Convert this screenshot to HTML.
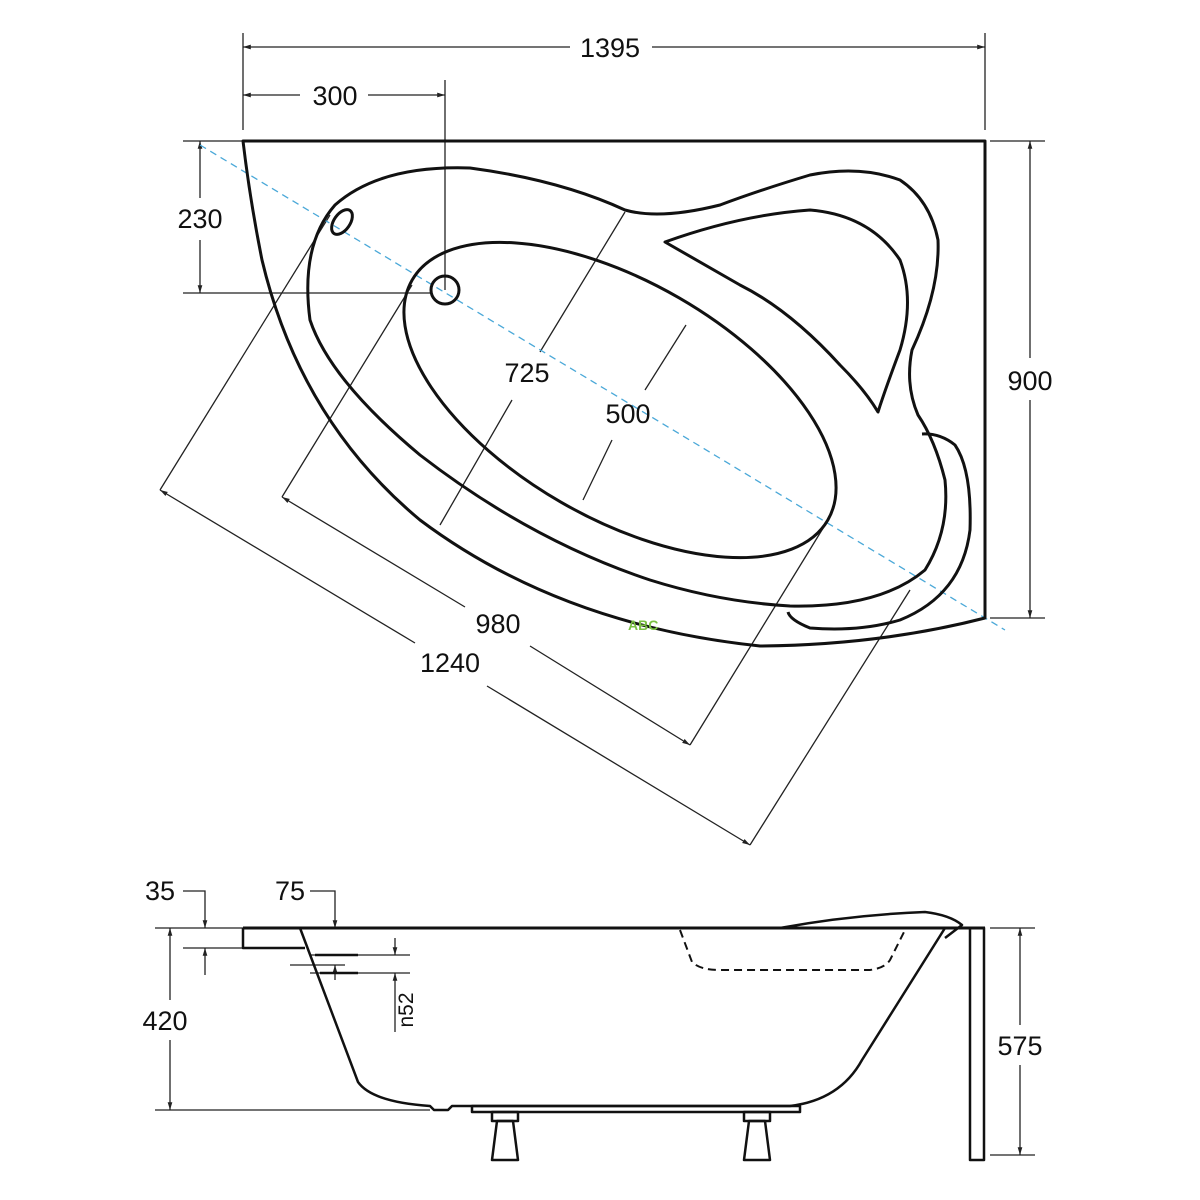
<!DOCTYPE html>
<html><head><meta charset="utf-8"><style>
html,body{margin:0;padding:0;background:#fff;}
svg{display:block;}
text{font-family:"Liberation Sans",sans-serif;font-size:27px;fill:#111;}
</style></head><body>
<svg width="1200" height="1200" viewBox="0 0 1200 1200" xmlns="http://www.w3.org/2000/svg">
<defs>
<marker id="a" viewBox="0 0 10 10" refX="10" refY="5" markerWidth="6" markerHeight="6" orient="auto-start-reverse"><path d="M0,2 L10,5 L0,8 z" fill="#222"/></marker>
</defs>
<g stroke="#222" stroke-width="1.3" fill="none">
<line x1="243" y1="33" x2="243" y2="130"/><line x1="985" y1="33" x2="985" y2="130"/>
<line x1="243" y1="47" x2="570" y2="47" marker-start="url(#a)"/><line x1="652" y1="47" x2="985" y2="47" marker-end="url(#a)"/>
<line x1="243" y1="95" x2="300" y2="95" marker-start="url(#a)"/><line x1="368" y1="95" x2="445" y2="95" marker-end="url(#a)"/>
<line x1="445" y1="80" x2="445" y2="290"/>
<line x1="183" y1="141" x2="243" y2="141"/><line x1="183" y1="293" x2="430" y2="293"/>
<line x1="200" y1="141" x2="200" y2="198" marker-start="url(#a)"/><line x1="200" y1="240" x2="200" y2="293" marker-end="url(#a)"/>
<line x1="990" y1="141" x2="1045" y2="141"/><line x1="990" y1="618" x2="1045" y2="618"/>
<line x1="1030" y1="141" x2="1030" y2="358" marker-start="url(#a)"/><line x1="1030" y1="400" x2="1030" y2="618" marker-end="url(#a)"/>
<line x1="160" y1="490" x2="330" y2="215"/><line x1="750" y1="845" x2="910" y2="590"/>
<line x1="160" y1="490" x2="415" y2="643" marker-start="url(#a)"/><line x1="487" y1="686" x2="750" y2="845" marker-end="url(#a)"/>
<line x1="282" y1="497" x2="412" y2="285"/><line x1="690" y1="745" x2="825" y2="525"/>
<line x1="282" y1="497" x2="465" y2="607" marker-start="url(#a)"/><line x1="530" y1="646" x2="690" y2="745" marker-end="url(#a)"/>
<line x1="440" y1="525" x2="512" y2="400"/><line x1="540" y1="352" x2="625" y2="212"/>
<line x1="583" y1="500" x2="612" y2="440"/><line x1="645" y1="390" x2="686" y2="325"/>
</g>
<line x1="200" y1="145" x2="1005" y2="630" stroke="#4aa8d8" stroke-width="1.3" stroke-dasharray="7,5"/>
<g stroke="#111" stroke-width="3" fill="none" stroke-linejoin="round">
<path d="M243,141 L985,141 L985,618 Q880,645 760,646 Q560,625 420,520 Q300,420 262,260 Q250,200 243,141 Z"/>
<path d="M625,210 Q560,180 470,168 Q380,165 335,205 Q300,245 310,320 Q330,380 420,455 Q530,540 650,580 Q720,602 790,606 Q880,608 925,570 Q950,530 945,480 Q935,440 918,415 Q905,385 912,350 Q940,290 938,240 Q930,200 900,180 Q860,165 810,175 Q760,190 720,205 Q660,220 625,210 Z"/>
<path d="M665,242 Q740,215 810,210 Q870,215 900,260 Q915,300 900,350 Q885,390 878,412 Q865,390 840,365 Q790,310 740,285 Q700,262 665,242 Z"/>
<ellipse cx="620" cy="400" rx="240" ry="118" transform="rotate(30 620 400)"/>
<path d="M922,434 Q940,433 955,445 Q972,470 970,530 Q962,595 900,620 Q860,632 810,628 Q790,620 788,612"/>
<circle cx="445" cy="290" r="14"/>
<ellipse cx="342" cy="222" rx="8" ry="14" transform="rotate(35 342 222)"/>
</g>
<text x="610" y="57" text-anchor="middle">1395</text>
<text x="335" y="105" text-anchor="middle">300</text>
<text x="200" y="228" text-anchor="middle">230</text>
<text x="1030" y="390" text-anchor="middle">900</text>
<text x="527" y="382" text-anchor="middle">725</text>
<text x="628" y="423" text-anchor="middle">500</text>
<text x="498" y="633" text-anchor="middle">980</text>
<text x="450" y="672" text-anchor="middle">1240</text>
<text x="628" y="630" style="font-size:14px;fill:#7bc043;font-weight:bold">ABC</text>
<g stroke="#222" stroke-width="1.3" fill="none">
<path d="M183,891 L205,891 L205,928" marker-end="url(#a)"/>
<line x1="183" y1="948" x2="243" y2="948"/><line x1="205" y1="975" x2="205" y2="948" marker-end="url(#a)"/>
<path d="M310,891 L335,891 L335,928" marker-end="url(#a)"/>
<line x1="155" y1="928" x2="243" y2="928"/><line x1="155" y1="1110" x2="430" y2="1110"/>
<line x1="170" y1="928" x2="170" y2="1000" marker-start="url(#a)"/><line x1="170" y1="1040" x2="170" y2="1110" marker-end="url(#a)"/>
<line x1="990" y1="928" x2="1035" y2="928"/><line x1="990" y1="1155" x2="1035" y2="1155"/>
<line x1="1020" y1="928" x2="1020" y2="1025" marker-start="url(#a)"/><line x1="1020" y1="1065" x2="1020" y2="1155" marker-end="url(#a)"/>
<line x1="310" y1="955" x2="410" y2="955"/><line x1="310" y1="973" x2="410" y2="973"/>
<line x1="290" y1="965" x2="345" y2="965"/>
<line x1="395" y1="938" x2="395" y2="955" marker-end="url(#a)"/><line x1="395" y1="1032" x2="395" y2="973" marker-end="url(#a)"/>
<line x1="335" y1="980" x2="335" y2="965" marker-end="url(#a)"/>
</g>
<g stroke="#111" stroke-width="2.5" fill="none" stroke-linejoin="round">
<line x1="243" y1="928" x2="985" y2="928" stroke-width="3"/>
<path d="M243,928 L243,948 L305,948"/>
<path d="M300,928 L358,1082 Q372,1102 430,1106 L434,1110 L448,1110 L452,1106 L790,1106 Q840,1100 862,1060 L945,928"/>
<path d="M315,955 L358,955 M320,973 L358,973"/>
<path d="M780,928 Q850,915 925,912 Q950,915 962,925 L945,938"/>
<rect x="970" y="928" width="14" height="232"/>
<path d="M945,928 L970,928"/>
<path d="M680,930 L692,962 Q700,970 720,970 L870,970 Q885,968 890,960 L905,930" stroke-dasharray="8,5" stroke-width="2"/>
<rect x="472" y="1106" width="328" height="6"/>
<rect x="492" y="1112" width="26" height="9"/><path d="M497,1121 L513,1121 L518,1160 L492,1160 Z"/>
<rect x="744" y="1112" width="26" height="9"/><path d="M749,1121 L765,1121 L770,1160 L744,1160 Z"/>
</g>
<text x="160" y="900" text-anchor="middle">35</text>
<text x="290" y="900" text-anchor="middle">75</text>
<text x="165" y="1030" text-anchor="middle">420</text>
<text x="1020" y="1055" text-anchor="middle">575</text>
<text transform="translate(413,1010) rotate(-90)" text-anchor="middle" style="font-size:21px">n52</text>
</svg>
</body></html>
